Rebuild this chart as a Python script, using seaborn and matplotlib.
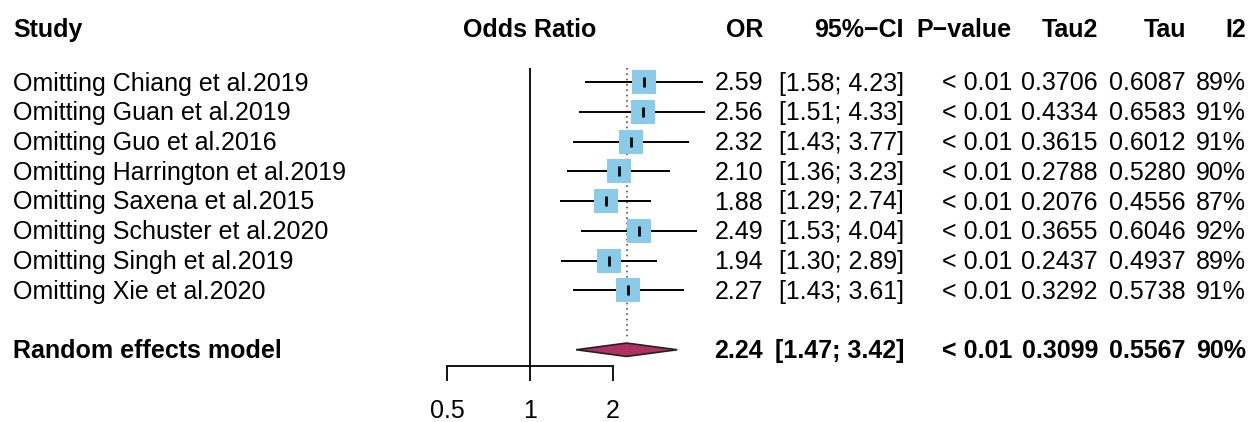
import matplotlib
matplotlib.use('Agg')
import matplotlib.pyplot as plt
import matplotlib.ticker as mticker
import pandas as pd
import seaborn as sns

# leave-one-out meta-analysis results
studies = ['Omitting Chiang et al.2019', 'Omitting Guan et al.2019', 'Omitting Guo et al.2016',
           'Omitting Harrington et al.2019', 'Omitting Saxena et al.2015', 'Omitting Schuster et al.2020',
           'Omitting Singh et al.2019', 'Omitting Xie et al.2020']
odds = [2.59, 2.56, 2.32, 2.10, 1.88, 2.49, 1.94, 2.27]
ci_low = [1.58, 1.51, 1.43, 1.36, 1.29, 1.53, 1.30, 1.43]
ci_high = [4.23, 4.33, 3.77, 3.23, 2.74, 4.04, 2.89, 3.61]
pvals = ['< 0.01'] * 8
tau2 = [0.3706, 0.4334, 0.3615, 0.2788, 0.2076, 0.3655, 0.2437, 0.3292]
tau = [0.6087, 0.6583, 0.6012, 0.5280, 0.4556, 0.6046, 0.4937, 0.5738]
i2 = [89, 91, 91, 90, 87, 92, 89, 91]

# random effects summary
pooled_label = 'Random effects model'
pooled_or = 2.24
pooled_low = 1.47
pooled_high = 3.42
pooled_p = '< 0.01'
pooled_tau2 = 0.3099
pooled_tau = 0.5567
pooled_i2 = 90

tick_vals = [0.5, 1, 2]
tick_labels = ['0.5', '1', '2']

df = pd.DataFrame({'study': studies, 'or': odds, 'lo': ci_low, 'hi': ci_high})
df['row'] = range(len(df))
pooled_row = len(df) + 1

sns.set_style('white')
plt.rcParams['font.family'] = ['Liberation Sans', 'DejaVu Sans']
plt.rcParams['text.color'] = 'black'
plt.rcParams['xtick.color'] = 'black'
plt.rcParams['axes.edgecolor'] = 'black'

W, H = 1255, 422
fig = plt.figure(figsize=(W / 100, H / 100), dpi=100)


def px(x):
    return x / W


def py(y):
    return 1 - y / H


# forest panel (pixel layout: top 68, axis line 366)
row0, step = 82, 29.75
top_px, bot_px = 68, 366
ax = fig.add_axes([px(440), py(bot_px), px(720) - px(440), (bot_px - top_px) / H])
ax.set_xscale('log')
ax.set_xlim(2 ** ((440 - 530) / 83), 2 ** ((720 - 530) / 83))
ax.set_ylim((bot_px - row0) / step, (top_px - row0) / step)

ax.axvline(1, color='black', lw=1.3, zorder=1)
ax.vlines(pooled_or, (top_px - row0) / step, pooled_row - 0.4, color='#555555', lw=1.2,
          linestyles=(0, (1, 2.2)), zorder=1)
ax.hlines(df['row'], df['lo'], df['hi'], color='black', lw=1.4, zorder=2)
sns.scatterplot(data=df, x='or', y='row', marker='s', s=310, color='#89CBE8',
                linewidth=0, ax=ax, zorder=3, legend=False)
ax.scatter(df['or'], df['row'], marker='|', s=45, color='black', linewidths=2, zorder=4)

dh = 0.225
ax.fill([pooled_low, pooled_or, pooled_high, pooled_or],
        [pooled_row, pooled_row - dh, pooled_row, pooled_row + dh],
        facecolor='#B03060', edgecolor='#222222', lw=1.2, zorder=3)

for s in ['left', 'right', 'top']:
    ax.spines[s].set_visible(False)
ax.spines['bottom'].set_bounds(0.5, 2)
ax.spines['bottom'].set_linewidth(1.3)
ax.set_xticks(tick_vals)
ax.set_xticklabels(tick_labels)
ax.xaxis.set_minor_locator(mticker.NullLocator())
ax.tick_params(axis='x', direction='out', length=11, width=1.3, pad=13, labelsize=18,
               bottom=True, colors='black')
ax.set_yticks([])
ax.set_xlabel('')
ax.set_ylabel('')

# header row
fs = 18
hy = 30
fig.text(px(13), py(hy), 'Study', fontsize=fs, fontweight='bold', va='center')
fig.text(px(530), py(hy), 'Odds Ratio', fontsize=fs, fontweight='bold', va='center', ha='center')
cols_x = [763, 904, 1012, 1098, 1186, 1246]
headers = ['OR', '95%\u2212CI', 'P\u2212value', 'Tau2', 'Tau', 'I2']
for x, h in zip(cols_x, headers):
    fig.text(px(x), py(hy), h, fontsize=fs, fontweight='bold', va='center', ha='right')


def row_text(y, cells, label, weight):
    fig.text(px(13), py(y), label, fontsize=fs, fontweight=weight, va='center')
    for x, c in zip(cols_x, cells):
        fig.text(px(x), py(y), c, fontsize=fs, fontweight=weight, va='center', ha='right')


for i in range(len(studies)):
    cells = [f'{odds[i]:.2f}', f'[{ci_low[i]:.2f}; {ci_high[i]:.2f}]', pvals[i],
             f'{tau2[i]:.4f}', f'{tau[i]:.4f}', f'{i2[i]}%']
    row_text(row0 + 1.5 + step * i, cells, studies[i], 'normal')

cells = [f'{pooled_or:.2f}', f'[{pooled_low:.2f}; {pooled_high:.2f}]', pooled_p,
         f'{pooled_tau2:.4f}', f'{pooled_tau:.4f}', f'{pooled_i2}%']
row_text(row0 + 1.5 + step * pooled_row, cells, pooled_label, 'bold')

fig.savefig('out.png', dpi=100)
